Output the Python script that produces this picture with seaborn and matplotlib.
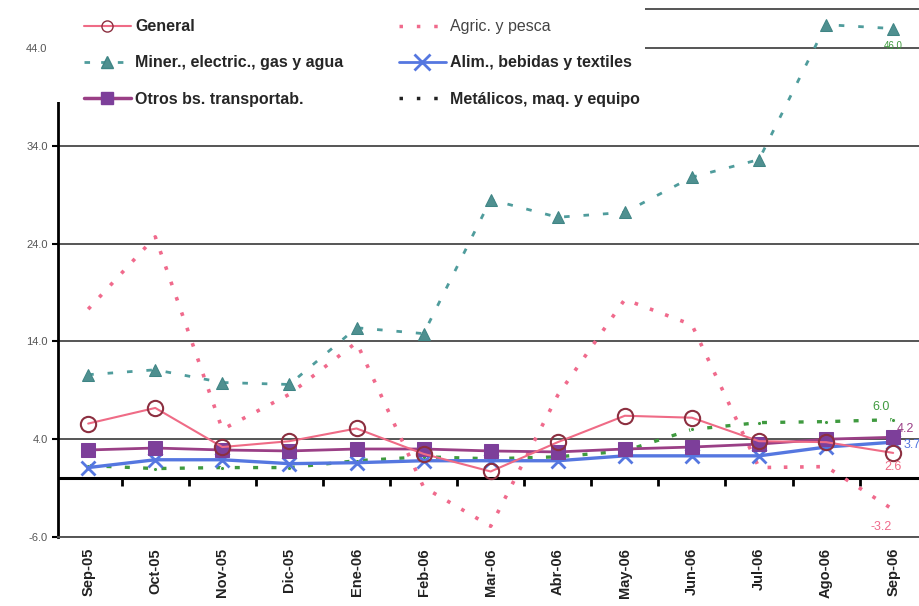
import numpy as np
import pandas as pd
import matplotlib
matplotlib.use("Agg")
import matplotlib.pyplot as plt
import seaborn as sns
from matplotlib import font_manager
from matplotlib.lines import Line2D
from matplotlib.patches import Rectangle

# Meses (eje X)
meses = ["Sep-05", "Oct-05", "Nov-05", "Dic-05", "Ene-06", "Feb-06", "Mar-06",
         "Abr-06", "May-06", "Jun-06", "Jul-06", "Ago-06", "Sep-06"]

# Series (variación %)
general = [5.6, 7.2, 3.2, 3.8, 5.1, 2.5, 0.7, 3.7, 6.4, 6.2, 3.8, 3.7, 2.6]
agric = [17.3, 24.7, 5.0, 8.6, 13.9, -0.9, -4.9, 8.5, 18.3, 15.7, 1.1, 1.2, -3.2]
miner = [10.6, 11.1, 9.8, 9.6, 15.4, 14.8, 28.5, 26.7, 27.2, 30.8, 32.6, 46.4, 46.0]
alim = [1.1, 1.9, 1.9, 1.5, 1.6, 1.8, 1.8, 1.8, 2.3, 2.3, 2.3, 3.2, 3.7]
otros = [2.9, 3.1, 2.9, 2.8, 3.0, 3.0, 2.8, 2.7, 3.0, 3.2, 3.5, 4.0, 4.2]
metalicos = [1.3, 1.0, 1.1, 1.1, 1.8, 2.2, 2.0, 2.2, 2.8, 5.0, 5.7, 5.8, 6.0]

# Etiquetas finales (Sep-06)
etiquetas_finales = {"miner": "46.0", "metalicos": "6.0", "otros": "4.2",
                     "alim": "3.7", "general": "2.6", "agric": "-3.2"}

sns.set_theme(style="white")
disponibles = {f.name for f in font_manager.fontManager.ttflist}
fuente = "Liberation Sans Narrow" if "Liberation Sans Narrow" in disponibles else "Liberation Sans"
plt.rcParams["font.family"] = [fuente, "DejaVu Sans"]

df = pd.DataFrame({"x": np.arange(len(meses)), "general": general, "agric": agric,
                   "miner": miner, "alim": alim, "otros": otros, "metalicos": metalicos})

fig = plt.figure(figsize=(9.2, 6.06), dpi=100)
ax = fig.add_axes([58 / 920, 1 - 537 / 606, 1 - 58 / 920, (537 - 9) / 606])

c_gen, c_agr, c_min = "#ef6b86", "#f06a8c", "#4f9c9c"
c_ali, c_otr, c_met = "#5577e0", "#9a3f86", "#3f9a3f"

sns.lineplot(data=df, x="x", y="agric", ax=ax, color=c_agr, lw=2.6,
             linestyle=(0, (1, 3.5)), zorder=3)
sns.lineplot(data=df, x="x", y="metalicos", ax=ax, color=c_met, lw=2.4,
             linestyle=(0, (1.5, 4)), marker="o", markersize=3, zorder=3)
sns.lineplot(data=df, x="x", y="miner", ax=ax, color=c_min, lw=2,
             linestyle=(0, (2, 5)), marker="^", markersize=8,
             markeredgecolor="#3f8585", markerfacecolor="#4f9090", zorder=3)
sns.lineplot(data=df, x="x", y="alim", ax=ax, color=c_ali, lw=2.4,
             marker="x", markersize=10, markeredgewidth=2, markeredgecolor=c_ali, zorder=3)
sns.lineplot(data=df, x="x", y="otros", ax=ax, color=c_otr, lw=2,
             marker="s", markersize=10, markerfacecolor="#7d3f9a",
             markeredgecolor="#7d3f9a", zorder=4)
sns.lineplot(data=df, x="x", y="general", ax=ax, color=c_gen, lw=1.5,
             marker="o", markersize=11, markerfacecolor="none",
             markeredgecolor="#8c2f40", markeredgewidth=1.5, zorder=5)

# Ejes y rejilla
ax.set_xlim(-0.45, 12.4)
ax.set_ylim(-6, 48)
ax.set_yticks([-6, 4, 14, 24, 34, 44])
ax.set_yticklabels(["-6.0", "4.0", "14.0", "24.0", "34.0", "44.0"],
                   color="#555555", fontsize=8)
ax.grid(axis="y", color="#555555", lw=1.4)
ax.set_xticks(df["x"])
ax.set_xticklabels(meses, rotation=90, fontsize=10.5, fontweight="bold", color="#222222")
ax.tick_params(axis="x", length=0, pad=8)
ax.tick_params(axis="y", length=4, width=1.5, color="black", direction="out", left=True)
ax.set_xlabel("")
ax.set_ylabel("")
ax.spines["right"].set_visible(False)
ax.spines["left"].set_color("black")
ax.spines["left"].set_linewidth(2)
ax.spines["bottom"].set_color("#555555")
ax.spines["bottom"].set_linewidth(1.4)
ax.spines["top"].set_color("#555555")
ax.spines["top"].set_linewidth(1.4)

# Linea del cero con marcas entre meses
ax.axhline(0, color="black", lw=2.2, zorder=2)
medios = df["x"].values[:-1] + 0.5
ax.vlines(medios, -0.8, 0, color="black", lw=2, zorder=2)

# Etiquetas de valores finales
ult = len(meses) - 1
for clave, (dx, dy), col, fs in [("miner", (0, -17), "#3f9a3f", 7),
                                 ("metalicos", (-12, 13), "#3f9a3f", 9),
                                 ("otros", (12, 8), c_otr, 9),
                                 ("alim", (19, -3), c_ali, 9),
                                 ("general", (0, -14), c_gen, 9),
                                 ("agric", (-12, -17), c_agr, 9)]:
    ax.annotate(etiquetas_finales[clave], (ult, df[clave].iloc[ult]),
                xytext=(dx, dy), textcoords="offset pixels", ha="center", va="center",
                color=col, fontsize=fs, zorder=6, annotation_clip=False)

# Fondo blanco de la leyenda (tapa rejilla superior)
ax.add_patch(Rectangle((0.055, 1 - 102 / 606), 645 / 920 - 0.055, 102 / 606,
                       transform=fig.transFigure, facecolor="white", edgecolor="none",
                       zorder=7, clip_on=False))

h_gen = Line2D([], [], color=c_gen, lw=1.5, marker="o", markersize=8,
               markerfacecolor="none", markeredgecolor="#8c2f40")
h_min = Line2D([], [], color=c_min, lw=2, linestyle=(0, (2, 4)), marker="^",
               markersize=8, markerfacecolor="#4f9090", markeredgecolor="#3f8585")
h_otr = Line2D([], [], color=c_otr, lw=2.5, marker="s", markersize=9,
               markerfacecolor="#7d3f9a", markeredgecolor="#7d3f9a")
h_agr = Line2D([], [], color=c_agr, lw=2.5, linestyle=(0, (1, 4)))
h_ali = Line2D([], [], color=c_ali, lw=2, marker="x", markersize=12,
               markeredgewidth=2, markeredgecolor=c_ali)
h_met = Line2D([], [], color="#222222", lw=2.5, linestyle=(0, (1, 4)))

estilo_ley = dict(loc="upper left", bbox_transform=fig.transFigure, frameon=False,
                  handlelength=2.9, handletextpad=0.3, labelspacing=1.33,
                  borderaxespad=0.3, prop={"size": 11.5, "weight": "bold"})
ley1 = ax.legend([h_gen, h_min, h_otr],
                 ["General", "Miner., electric., gas y agua", "Otros bs. transportab."],
                 bbox_to_anchor=(73 / 920, 1 - 8 / 606), **estilo_ley)
ley1.set_zorder(8)
ax.add_artist(ley1)
ley2 = ax.legend([h_agr, h_ali, h_met],
                 ["Agric. y pesca", "Alim., bebidas y textiles", "Metálicos, maq. y equipo"],
                 bbox_to_anchor=(388 / 920, 1 - 8 / 606), **estilo_ley)
ley2.set_zorder(8)
ley2.get_texts()[0].set_fontweight("normal")
ley2.get_texts()[0].set_color("#444444")

fig.savefig("out.png", dpi=100)
